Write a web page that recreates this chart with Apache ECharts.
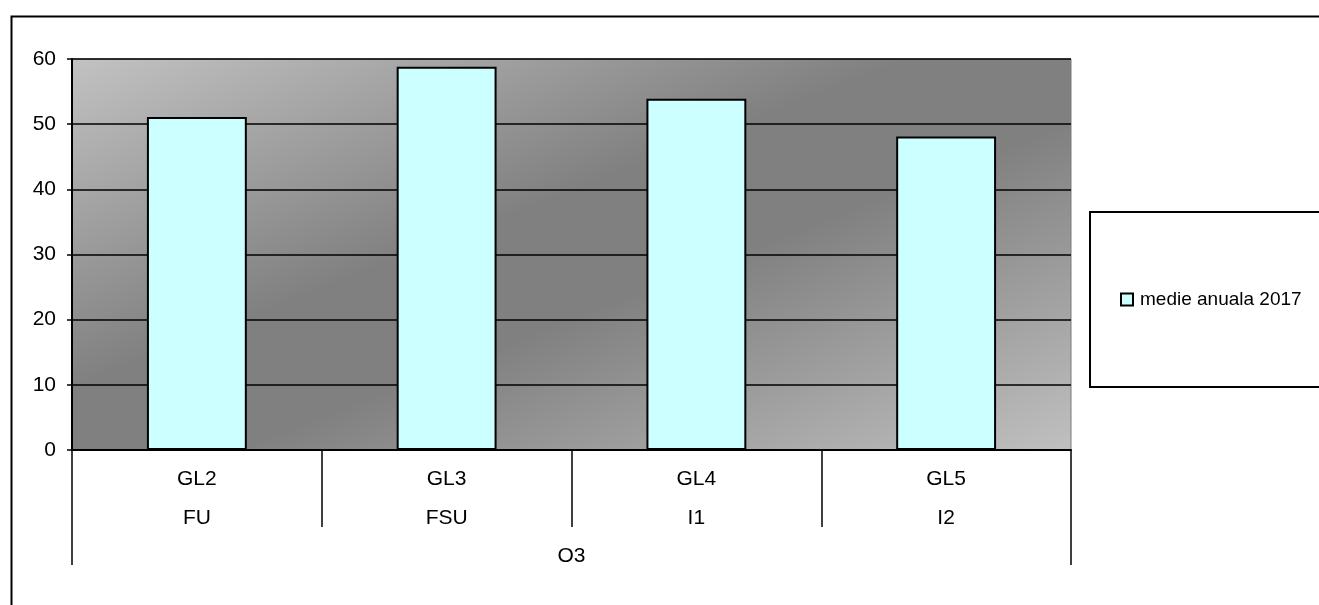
<!DOCTYPE html>
<html>
<head>
<meta charset="utf-8">
<script src="https://cdn.jsdelivr.net/npm/echarts@6/dist/echarts.min.js"></script>
<style>html,body{margin:0;padding:0;background:#fff;}#c{width:1319px;height:605px;}</style>
</head>
<body>
<div id="c"></div>
<script>
const stations = ['GL2', 'GL3', 'GL4', 'GL5'];
const stationTypes = ['FU', 'FSU', 'I1', 'I2'];
const pollutant = ['O3'];
const seriesName = 'medie anuala 2017';
const values = [51.1, 58.8, 53.9, 48.1];
const yTicks = { min: 0, max: 60, interval: 10 };

const categories = stations.map((s, i) => s + '\n' + stationTypes[i]);
const chart = echarts.init(document.getElementById('c'), null, { renderer: 'canvas' });
const font = 'Liberation Sans, Arial, sans-serif';

// plot-area layout
const G = { left: 72, right: 248, top: 59, bottom: 155 };
const W = 1319 - G.left - G.right, H = 605 - G.top - G.bottom;
const cx = G.left + W / 2, cy = G.top + H / 2;
const nl = Math.hypot(H, W), nx = H / nl, ny = W / nl;
const half = (W / 2) * nx + (H / 2) * ny;
const bg = new echarts.graphic.LinearGradient(
  cx - half * nx, cy - half * ny, cx + half * nx, cy + half * ny, [
    { offset: 0, color: '#c2c2c2' },
    { offset: 0.42, color: '#808080' },
    { offset: 0.58, color: '#808080' },
    { offset: 1, color: '#c0c0c0' }
  ], true);

chart.setOption({
  animation: false,
  backgroundColor: '#ffffff',
  graphic: [{
    type: 'rect', left: 9, top: 14, z: 0,
    shape: { width: 1330, height: 620 },
    style: { fill: 'none', stroke: '#000', lineWidth: 2 }
  }],
  grid: {
    left: G.left, right: G.right, top: G.top, bottom: G.bottom,
    show: true,
    backgroundColor: bg,
    borderColor: '#7a7a7a', borderWidth: 1
  },
  legend: {
    data: [seriesName],
    left: 1090, top: 212,
    orient: 'vertical',
    padding: [78, 60, 78, 30],
    borderColor: '#000', borderWidth: 2,
    itemWidth: 12, itemHeight: 12, icon: 'rect',
    textStyle: { fontFamily: font, fontSize: 19, color: '#000', padding: [0, 0, 0, 2] }
  },
  xAxis: [{
    type: 'category', data: categories, boundaryGap: true,
    axisLine: { lineStyle: { color: '#000', width: 2 } },
    axisTick: { show: true, interval: 0, length: 77, lineStyle: { color: '#000', width: 1.5 } },
    axisLabel: { interval: 0, margin: 10, fontFamily: font, fontSize: 21, color: '#000', lineHeight: 39 }
  }, {
    type: 'category', data: pollutant, boundaryGap: true, position: 'bottom',
    axisLine: { show: false },
    axisTick: { show: true, interval: 0, length: 115, lineStyle: { color: '#000', width: 1.5 } },
    axisLabel: { interval: 0, margin: 95, fontFamily: font, fontSize: 21, color: '#000', lineHeight: 22 }
  }],
  yAxis: {
    type: 'value', min: yTicks.min, max: yTicks.max, interval: yTicks.interval,
    axisLine: { show: true, lineStyle: { color: '#000', width: 2 } },
    axisTick: { show: true, length: 5, lineStyle: { color: '#000', width: 1.5 } },
    axisLabel: { margin: 16, fontFamily: font, fontSize: 21, color: '#000' },
    splitLine: { show: true, lineStyle: { color: '#000', width: 1.5 } }
  },
  series: [{
    name: seriesName, type: 'bar', data: values, xAxisIndex: 0,
    barWidth: '40%',
    itemStyle: { color: '#ccffff', borderColor: '#000', borderWidth: 2 }
  }]
});
</script>
</body>
</html>
